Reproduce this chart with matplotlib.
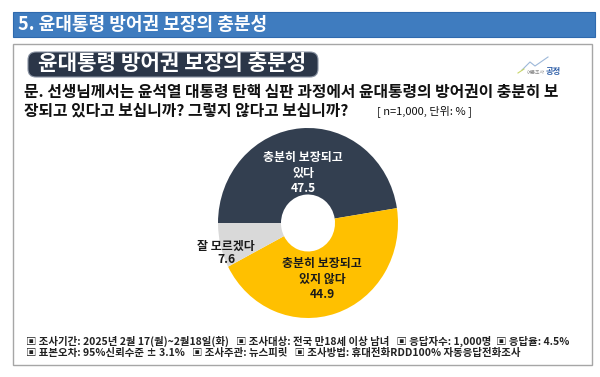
import matplotlib
matplotlib.use("Agg")
import matplotlib.pyplot as plt
from matplotlib.patches import Rectangle, FancyBboxPatch

plt.rcParams['font.family'] = ['Noto Sans CJK KR', 'DejaVu Sans']

header = "5. 윤대통령 방어권 보장의 충분성"
title = "윤대통령 방어권 보장의 충분성"
question1 = "문. 선생님께서는 윤석열 대통령 탄핵 심판 과정에서 윤대통령의 방어권이 충분히 보"
question2 = "장되고 있다고 보십니까? 그렇지 않다고 보십니까?"
note = "[ n=1,000, 단위: % ]"
categories = ["충분히 보장되고\n있다", "충분히 보장되고\n있지 않다", "잘 모르겠다"]
values = [47.5, 44.9, 7.6]
colors = ["#333F50", "#FFC000", "#D9D9D9"]
label_colors = ["white", "#1a1a1a", "#1a1a1a"]
footer1 = "▣ 조사기간: 2025년 2월 17(월)~2월18일(화)   ▣ 조사대상: 전국 만18세 이상 남녀   ▣ 응답자수: 1,000명  ▣ 응답율: 4.5%"
footer2 = "▣ 표본오차: 95%신뢰수준 ± 3.1%   ▣ 조사주관: 뉴스피릿   ▣ 조사방법: 휴대전화RDD100% 자동응답전화조사"

W, H = 600, 377
fig = plt.figure(figsize=(W / 100, H / 100), dpi=100)
ax = fig.add_axes([0, 0, 1, 1])
ax.set_xlim(0, W)
ax.set_ylim(H, 0)
ax.axis('off')

# header bar
ax.add_patch(Rectangle((13, 12), 582, 25, facecolor="#3F7CBF", edgecolor="#2F6AAE", lw=0.8))
ax.text(18, 25, header, color="white", fontsize=13, fontweight='bold', va='center', ha='left')

# content box
ax.add_patch(Rectangle((13, 44), 579, 321, facecolor="white", edgecolor="#A6A6A6", lw=1.0))

# title pill
ax.add_patch(FancyBboxPatch((28, 52), 290, 25, boxstyle="round,pad=0,rounding_size=8",
                            facecolor="#2B3648", edgecolor="#8A93A3", lw=0.8))
ax.text(172, 64, title, color="white", fontsize=15.3, fontweight='bold', va='center', ha='center')

# logo
ax.plot([522, 530, 535, 548], [70, 62, 66, 57], color="#9DB8D9", lw=0.8)
ax.plot([518, 524], [73, 69], color="#C8D66A", lw=0.8)
ax.text(545, 72, "여론조사", color="#8A8A8A", fontsize=3.5, va='center', ha='right')
ax.text(546, 71.5, "공정", color="#2F5FA8", fontsize=6, fontweight='bold', va='center', ha='left')

# question
ax.text(24, 92, question1, color="#111111", fontsize=11.4, fontweight='bold', va='center', ha='left')
ax.text(24, 110, question2, color="#111111", fontsize=11.4, fontweight='bold', va='center', ha='left')
ax.text(377, 111, note, color="#111111", fontsize=8, va='center', ha='left')

# footer
ax.text(26, 341, footer1, color="#222222", fontsize=7.5, fontweight='bold', va='center', ha='left')
ax.text(26, 353, footer2, color="#222222", fontsize=7.5, fontweight='bold', va='center', ha='left')

# donut
cx, cy, rx, ry = 308, 223, 90, 95
pax = fig.add_axes([(cx - rx) / W, 1 - (cy + ry) / H, 2 * rx / W, 2 * ry / H])
pax.pie(values, colors=colors, startangle=180, counterclock=False,
        radius=1.0, wedgeprops=dict(width=0.7, linewidth=0))
pax.set_xlim(-1, 1)
pax.set_ylim(-1, 1)
pax.set_aspect('auto')
pax.axis('off')

# labels (in pixel coords of main axes, drawn above the donut)
pax.text(303, 173, categories[0] + "\n" + f"{values[0]:.1f}", color=label_colors[0], fontsize=8.6,
         fontweight='bold', ha='center', va='center', linespacing=1.3, zorder=5,
         transform=ax.transData, clip_on=False)
pax.text(322, 279, categories[1] + "\n" + f"{values[1]:.1f}", color=label_colors[1], fontsize=8.6,
         fontweight='bold', ha='center', va='center', linespacing=1.3, zorder=5,
         transform=ax.transData, clip_on=False)
pax.text(226, 253, categories[2] + "\n" + f"{values[2]:.1f}", color=label_colors[2], fontsize=8.6,
         fontweight='bold', ha='center', va='center', linespacing=1.05, zorder=5,
         transform=ax.transData, clip_on=False)

fig.savefig("out.png", dpi=100)
